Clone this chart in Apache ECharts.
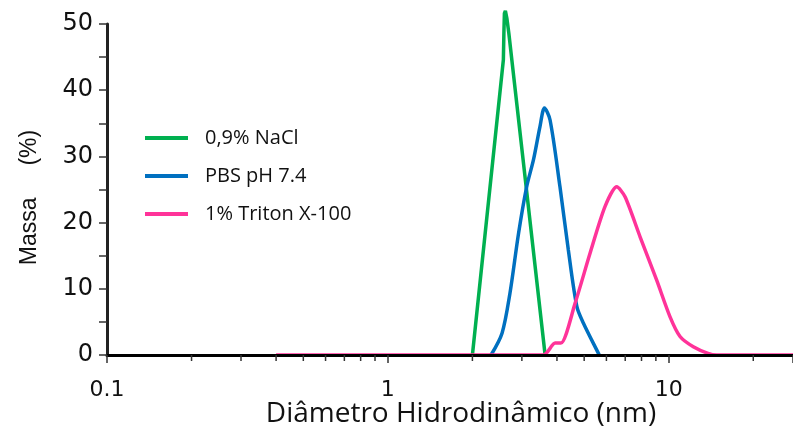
<!DOCTYPE html>
<html><head><meta charset="utf-8">
<script src="https://cdn.jsdelivr.net/npm/echarts@6/dist/echarts.min.js"></script>
<style>html,body{margin:0;padding:0;background:#fff}#c{width:793px;height:426px}</style>
</head><body><div id="c"></div>
<script>
const seriesNames = ['0,9% NaCl', 'PBS pH 7.4', '1% Triton X-100'];
const xTickLabels = ['0.1', '1', '10'];
const minorTickValues = [0.2,0.3,0.4,0.5,0.6,0.7,0.8,0.9,2,3,4,5,6,7,8,9,20];
const naclData = [[2.0,0],[2.578,44.6],[2.59,49],[2.60,51.6],[2.621,52.0],[2.652,50.9],[2.696,48.6],[3.63,0]];
const pbsData = [[2.33,0],[2.55,3.3],[2.72,9.3],[2.92,18.4],[3.12,25.4],[3.30,29.5],[3.48,34.5],[3.61,37.3],[3.78,35.5],[4.10,25.4],[4.39,15.9],[4.71,7.3],[4.97,4.8],[5.62,0.25],[5.66,0]];
const tritonData = [[0.4,0],[3.58,0],[3.94,1.8],[4.13,1.8],[4.64,7.8],[5.25,15.4],[5.93,22.4],[6.53,25.4],[6.99,23.9],[7.90,17.9],[9.06,11.3],[10.1,5.8],[10.97,2.8],[12.23,1.25],[13.8,0.25],[14.8,0],[27.7,0]];
const colors = ['#00b050', '#0070c0', '#ff3399'];

const chart = echarts.init(document.getElementById('c'));
chart.setOption({
  animation: false,
  grid: {left: 107, right: 0, top: 24, bottom: 71, containLabel: false, outerBoundsMode: 'none'},
  legend: {
    orient: 'vertical', left: 140, top: 122, itemGap: 16,
    icon: 'rect', itemWidth: 43, itemHeight: 4,
    data: seriesNames,
    textStyle: {fontFamily: 'Open Sans', fontSize: 20, color: '#111', padding: [0,0,0,12], lineHeight: 22}
  },
  xAxis: {
    type: 'log', logBase: 10, min: 0.1, max: 27.7, z: 10,
    name: 'Diâmetro Hidrodinâmico (nm)', nameLocation: 'middle', nameGap: 44, nameMoveOverlap: false,
    nameTextStyle: {fontFamily: 'Open Sans', fontSize: 28, color: '#111', padding: [0,0,0,22], lineHeight: 30},
    axisLine: {show: true, onZero: false, lineStyle: {color: '#000', width: 3}},
    axisTick: {show: true, length: 8, lineStyle: {color: '#333', width: 1.5}},
    axisLabel: {margin: 24, fontFamily: 'DejaVu Sans', fontSize: 22, color: '#111',
      formatter: v => { const s = xTickLabels.find(t => Math.abs(parseFloat(t) - v) < 1e-9); return s || ''; }},
    splitLine: {show: false}, minorTick: {show: false}
  },
  yAxis: {
    type: 'value', min: 0, max: 50, interval: 10, z: 10,
    name: 'Massa     (%)', nameLocation: 'middle', nameGap: 66, nameRotate: 90, nameMoveOverlap: false,
    nameTextStyle: {fontFamily: 'Liberation Sans', fontSize: 23, color: '#111', padding: [0,16,0,0]},
    axisLine: {show: true, lineStyle: {color: '#222', width: 3}},
    axisTick: {show: true, length: 8, lineStyle: {color: '#333', width: 1.5}},
    minorTick: {show: true, splitNumber: 2, length: 8, lineStyle: {color: '#333', width: 1.5}},
    axisLabel: {margin: 14, fontFamily: 'DejaVu Sans', fontSize: 24, color: '#111'},
    splitLine: {show: false}
  },
  series: [
    {name: seriesNames[0], type: 'line', data: naclData, symbol: 'none', smooth: false, clip: false,
     lineStyle: {color: colors[0], width: 3.5}, itemStyle: {color: colors[0]}},
    {name: seriesNames[1], type: 'line', data: pbsData, symbol: 'none', smooth: 0.3,
     lineStyle: {color: colors[1], width: 3.5}, itemStyle: {color: colors[1]}},
    {name: seriesNames[2], type: 'line', data: tritonData, symbol: 'none', smooth: 0.25,
     lineStyle: {color: colors[2], width: 3.5}, itemStyle: {color: colors[2]}},
    {type: 'custom', silent: true, z: 11, clip: false,
     data: minorTickValues.map(v => [v, 0]),
     renderItem: (params, api) => {
       const p = api.coord([api.value(0), 0]);
       return {type: 'line', shape: {x1: p[0], y1: p[1], x2: p[0], y2: p[1] + 6},
               style: {stroke: '#333', lineWidth: 1.5}};
     }}
  ]
});
</script></body></html>
